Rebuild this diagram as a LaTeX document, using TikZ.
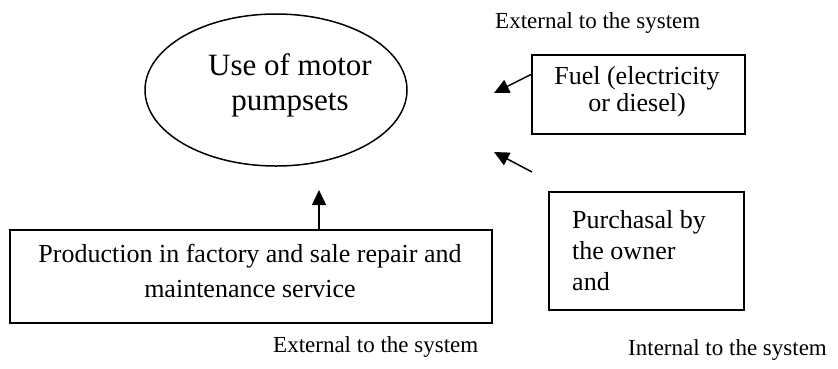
\documentclass[tikz,border=0pt]{standalone}
\usepackage{fontspec}
\setmainfont{Liberation Serif}
\usetikzlibrary{shapes.geometric,arrows.meta}
\begin{document}
\begin{tikzpicture}[x=1pt,y=-1pt,
  outline/.style={draw,line width=1.5pt,inner sep=0pt},
  boxtext/.style={font=\fontsize{26}{27}\selectfont,inner sep=0pt},
  lbl/.style={font=\fontsize{23}{27}\selectfont,anchor=base west,inner sep=0pt},
  arr/.style={line width=1.5pt,-{Triangle[length=15pt,width=14pt]}}]
\useasboundingbox (0,0) rectangle (838,368);

% central activity
\node[outline,ellipse,minimum width=262pt,minimum height=152pt] (use) at (276,90) {};
\node[inner sep=0pt,align=center,font=\fontsize{31}{35}\selectfont] (usetext) at (290,85.5) {Use of motor\\pumpsets};

% production / service box
\node[outline,rectangle,minimum width=482pt,minimum height=93pt] (prod) at (251,276.5) {};
\node[boxtext,align=center,font=\fontsize{26}{35}\selectfont] (prodtext) at (250,270.6)
  {Production in factory and sale repair and\\maintenance service};

% fuel box
\node[outline,rectangle,minimum width=213pt,minimum height=79pt] (fuel) at (638.5,94.5) {};
\node[boxtext,align=center,font=\fontsize{26}{27}\selectfont] (fueltext) at (637,92)
  {Fuel (electricity\\or diesel)};

% purchasal box
\node[outline,rectangle,minimum width=195pt,minimum height=118pt] (purch) at (646.5,251) {};
\node[boxtext,align=left,anchor=west,font=\fontsize{26}{31}\selectfont] (purchtext) at (572,250.1)
  {Purchasal by\\the owner\\and};

% connectors
\coordinate (upfoot) at (319,230);
\coordinate (uptip) at (319,190);
\draw[arr] (upfoot) -- (uptip);

\coordinate (fuelfoot) at (532,74);
\coordinate (fueltip) at (494,93);
\draw[arr] (fuelfoot) -- (fueltip);

\coordinate (purchfoot) at (532,172);
\coordinate (purchtip) at (494,152);
\draw[arr] (purchfoot) -- (purchtip);

% system boundary labels
\node[lbl] (exttop) at (495,28) {External to the system};
\node[lbl] (extbottom) at (273,352) {External to the system};
\node[lbl] (internal) at (628,355) {Internal to the system};
\end{tikzpicture}
\end{document}
